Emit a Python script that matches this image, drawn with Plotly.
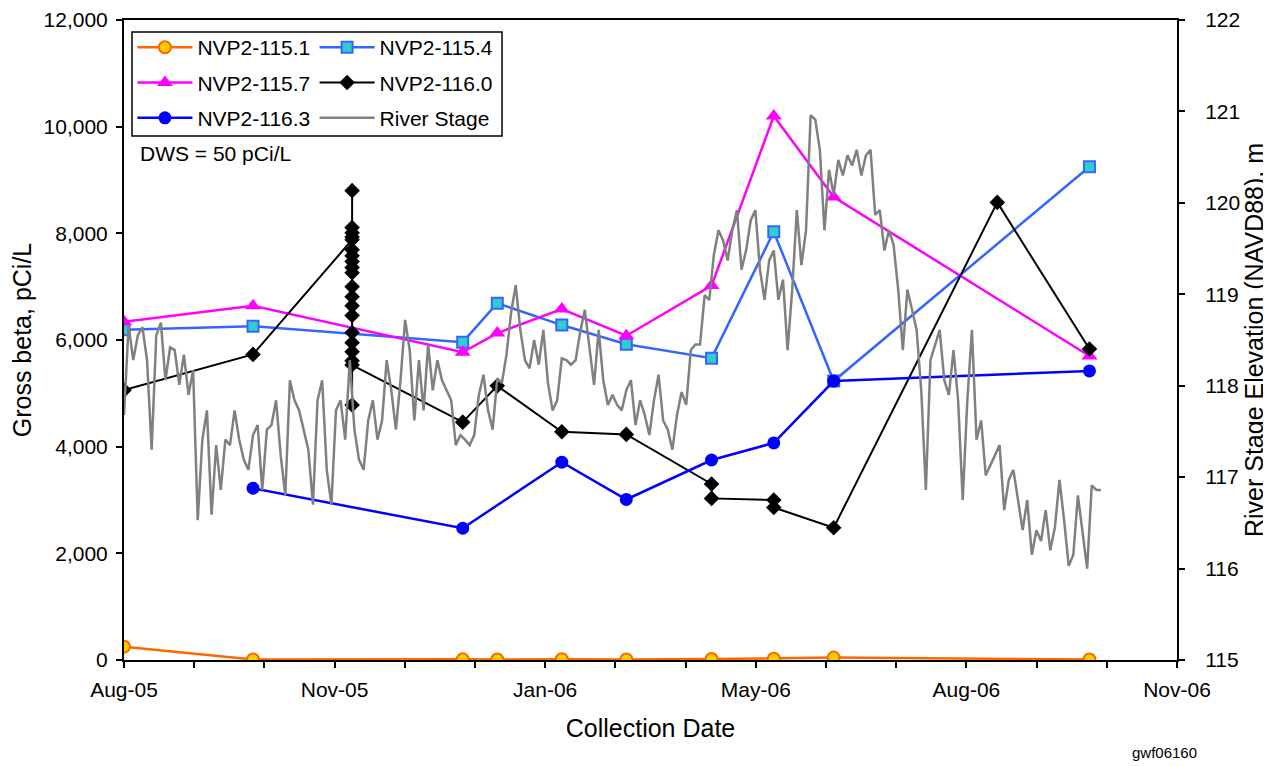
import pandas as pd
import plotly.graph_objects as go

# Sample dates for the wells
dates_main = ["2005-08-02", "2005-09-27", "2005-12-27", "2006-01-11", "2006-02-08",
              "2006-03-08", "2006-04-14", "2006-05-11", "2006-06-06", "2006-09-25"]

nvp_115_1 = [250, 10, 12, 8, 15, 10, 18, 25, 45, 10]
nvp_115_4 = [6190, 6260, 5960, 6690, 6280, 5920, 5660, 8030, 5230, 9250]
nvp_115_7 = [6340, 6640, 5770, 6130, 6580, 6080, 7020, 10200, 8680, 5700]

dates_116_3 = ["2005-09-27", "2005-12-27", "2006-02-08", "2006-03-08", "2006-04-14",
               "2006-05-11", "2006-06-06", "2006-09-25"]
nvp_116_3 = [3220, 2470, 3710, 3010, 3750, 4070, 5230, 5420]

# NVP2-116.0 includes a series of samples taken on the same day in Nov-05
dates_116_0 = (["2005-08-02", "2005-09-27"] + ["2005-11-09"] * 20 +
               ["2005-12-27", "2006-01-11", "2006-02-08", "2006-03-08", "2006-04-14",
                "2006-04-14", "2006-05-11", "2006-05-11", "2006-06-06", "2006-08-16",
                "2006-09-25"])
nvp_116_0 = [5060, 5730,
             7880, 8800, 8110, 8010, 7930, 7690, 7580, 7470, 7360, 7260,
             7000, 6810, 6640, 6460, 6140, 5950, 5780, 5610, 4780, 5530,
             4460, 5140, 4280, 4230, 3300, 3030, 3000, 2860, 2480, 8580, 5830]

# River stage (m NAVD88), read every 2 days from 2005-08-02
river_start = "2005-08-02"
river_stage = [
    117.68, 118.66, 118.28, 118.55, 118.64, 118.28, 117.30, 118.55, 118.69, 118.06,
    118.42, 118.39, 118.01, 118.34, 117.90, 118.17, 116.53, 117.41, 117.73, 116.59,
    117.35, 116.86, 117.41, 117.35, 117.73, 117.41, 117.19, 117.08, 117.46, 117.57,
    116.86, 117.52, 117.57, 117.84, 117.24, 116.80, 118.06, 117.84, 117.73, 117.52,
    117.30, 116.70, 117.84, 118.06, 117.08, 116.70, 117.73, 117.84, 117.41, 118.28,
    117.52, 117.19, 117.08, 117.62, 117.84, 117.41, 117.62, 118.28, 117.95, 117.52,
    118.06, 118.72, 118.39, 117.62, 118.28, 117.73, 118.45, 117.95, 118.28, 118.06,
    117.95, 117.84, 117.35, 117.46, 117.41, 117.35, 117.46, 117.90, 118.12, 117.73,
    117.52, 118.08, 118.03, 118.34, 118.80, 119.10, 118.61, 118.28, 118.19, 118.50,
    118.23, 118.61, 118.03, 117.73, 117.84, 118.30, 118.28, 118.23, 118.28, 118.59,
    118.83, 118.45, 118.01, 118.61, 118.06, 117.79, 117.90, 117.79, 117.73, 117.95,
    118.06, 117.57, 117.84, 117.68, 117.46, 117.84, 118.12, 117.62, 117.52, 117.30,
    117.68, 117.93, 117.79, 118.39, 118.45, 118.45, 118.99, 118.94, 119.43, 119.70,
    119.59, 119.37, 119.70, 119.92, 119.27, 119.48, 119.81, 119.92, 119.27, 118.94,
    119.37, 119.48, 118.94, 119.16, 118.39, 119.05, 119.92, 119.32, 119.70, 120.96,
    120.91, 120.58, 119.70, 120.36, 120.09, 120.47, 120.30, 120.52, 120.41, 120.58,
    120.30, 120.52, 120.58, 119.87, 119.92, 119.48, 119.70, 119.54, 119.05, 118.39,
    119.05, 118.83, 118.61, 117.95, 116.86, 118.28, 118.45, 118.61, 118.06, 117.90,
    118.39, 117.84, 116.75, 117.84, 118.61, 117.41, 117.62, 117.02, 117.13, 117.24,
    117.35, 116.64, 116.97, 117.08, 116.75, 116.42, 116.75, 116.15, 116.42, 116.30,
    116.64, 116.20, 116.45, 116.97, 116.53, 116.03, 116.15, 116.80, 116.40, 116.00,
    116.91, 116.86, 116.86,
]
river_dates = pd.date_range(river_start, periods=len(river_stage), freq="2D")

# Axis: Excel-style date axis, 15 minor steps, label every 3rd
axis_start = "2005-08-02"
axis_end = "2006-11-02"
tick_labels = ["Aug-05", "Nov-05", "Jan-06", "May-06", "Aug-06", "Nov-06"]

major_ticks = pd.date_range(axis_start, axis_end, periods=6)
minor_ticks = pd.date_range(axis_start, axis_end, periods=16)

FONT = "Arial, Liberation Sans, sans-serif"

fig = go.Figure()

fig.add_trace(go.Scatter(
    x=dates_main, y=nvp_115_1, name="NVP2-115.1", mode="lines+markers",
    line=dict(color="#FF6600", width=2.5),
    marker=dict(symbol="circle", size=12, color="#FFCC00", line=dict(color="#FF6600", width=2)),
    legend="legend", legendgroup="a"))
fig.add_trace(go.Scatter(
    x=dates_main, y=nvp_115_4, name="NVP2-115.4", mode="lines+markers",
    line=dict(color="#3366FF", width=2.5),
    marker=dict(symbol="square", size=11, color="#33CCCC", line=dict(color="#3366FF", width=2)),
    legend="legend2", legendgroup="b"))
fig.add_trace(go.Scatter(
    x=dates_main, y=nvp_115_7, name="NVP2-115.7", mode="lines+markers",
    line=dict(color="#FF00FF", width=2.5),
    marker=dict(symbol="triangle-up", size=14, color="#FF00FF"),
    legend="legend", legendgroup="c"))
fig.add_trace(go.Scatter(
    x=dates_116_0, y=nvp_116_0, name="NVP2-116.0", mode="lines+markers",
    line=dict(color="black", width=2),
    marker=dict(symbol="diamond", size=12, color="black"),
    legend="legend2", legendgroup="d"))
fig.add_trace(go.Scatter(
    x=dates_116_3, y=nvp_116_3, name="NVP2-116.3", mode="lines+markers",
    line=dict(color="#0000FF", width=2.5),
    marker=dict(symbol="circle", size=13, color="#0000FF"),
    legend="legend", legendgroup="e"))
fig.add_trace(go.Scatter(
    x=river_dates, y=river_stage, name="River Stage", mode="lines", yaxis="y2",
    line=dict(color="#808080", width=2.5),
    legend="legend2", legendgroup="f"))

legend_style = dict(font=dict(family=FONT, size=21, color="black"), bgcolor="rgba(0,0,0,0)",
                    borderwidth=0, itemwidth=55, tracegroupgap=5, yanchor="top", y=0.989,
                    xanchor="left", itemclick=False, itemdoubleclick=False)

# page body has an 8px margin, so the figure is drawn 8px smaller and offset
fig.update_layout(
    width=1263, height=758,
    margin=dict(l=116, r=94, t=12, b=106, autoexpand=False),
    paper_bgcolor="white", plot_bgcolor="white",
    font=dict(family=FONT, size=21, color="black"),
    showlegend=True,
    legend=dict(x=0.008, **legend_style),
    legend2=dict(x=0.181, **legend_style),
    xaxis=dict(
        type="date", range=[axis_start, axis_end], automargin=False,
        tickmode="array", tickvals=major_ticks, ticktext=tick_labels,
        ticks="outside", ticklen=6, tickwidth=2, tickcolor="black",
        ticklabelstandoff=4,
        minor=dict(tickmode="array", tickvals=minor_ticks, ticks="outside",
                   ticklen=6, tickwidth=2, tickcolor="black"),
        showline=True, linewidth=2, linecolor="black", mirror=True,
        showgrid=False, zeroline=False,
        title=dict(text="Collection Date", standoff=19),
    ),
    yaxis=dict(
        range=[0, 12000], dtick=2000, tickformat=",", automargin=False,
        ticks="outside", ticklen=6, tickwidth=2, tickcolor="black",
        ticklabelstandoff=4,
        showline=True, linewidth=2, linecolor="black",
        showgrid=False, zeroline=False,
        title=dict(text="Gross beta, pCi/L", standoff=14),
    ),
    yaxis2=dict(
        overlaying="y", side="right", automargin=False,
        range=[115, 122], dtick=1,
        ticks="outside", ticklen=6, tickwidth=2, tickcolor="black",
        ticklabelstandoff=16,
        showline=True, linewidth=2, linecolor="black",
        showgrid=False, zeroline=False,
        title=dict(text="River Stage Elevation (NAVD88), m", standoff=2),
    ),
    shapes=[dict(type="rect", xref="paper", yref="paper",
                 x0=0.0076, x1=0.359, y0=0.8188, y1=0.98125,
                 line=dict(color="black", width=1.5), fillcolor="white", layer="above")],
    annotations=[
        dict(text="DWS = 50 pCi/L", xref="paper", yref="paper", x=0.0133, y=0.792,
             xanchor="left", yanchor="middle", showarrow=False, font=dict(size=21)),
        dict(text="gwf06160", xref="paper", yref="paper", x=0.9886, y=-0.14375,
             xanchor="center", yanchor="middle", showarrow=False, font=dict(size=15)),
    ],
)

fig.write_html("out.html")
